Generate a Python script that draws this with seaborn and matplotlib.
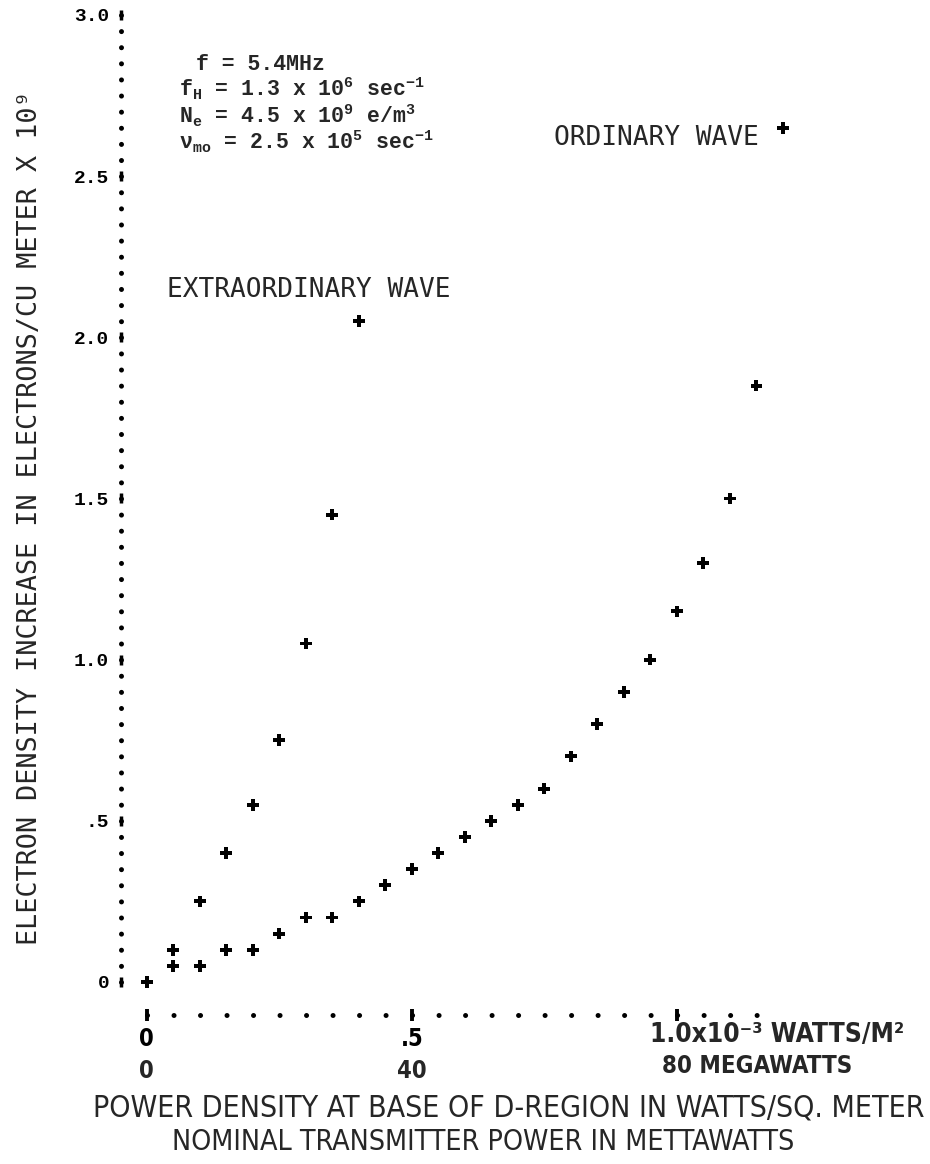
import numpy as np
import pandas as pd
import matplotlib
matplotlib.use("Agg")
import matplotlib.pyplot as plt
import matplotlib.transforms as mtransforms
from matplotlib import font_manager
import seaborn as sns

# ---------------- data ----------------
power_ext = [0.00, 0.05, 0.10, 0.15, 0.20, 0.25, 0.30, 0.35, 0.40]
dens_ext = [0.00, 0.10, 0.25, 0.40, 0.55, 0.75, 1.05, 1.45, 2.05]

power_ord = [0.00, 0.05, 0.10, 0.15, 0.20, 0.25, 0.30, 0.35, 0.40, 0.45,
             0.50, 0.55, 0.60, 0.65, 0.70, 0.75, 0.80, 0.85, 0.90, 0.95,
             1.00, 1.05, 1.10, 1.15, 1.20]
dens_ord = [0.00, 0.05, 0.05, 0.10, 0.10, 0.15, 0.20, 0.20, 0.25, 0.30,
            0.35, 0.40, 0.45, 0.50, 0.55, 0.60, 0.70, 0.80, 0.90, 1.00,
            1.15, 1.30, 1.50, 1.85, 2.65]

y_ticks = [0.0, 0.5, 1.0, 1.5, 2.0, 2.5, 3.0]
y_tick_labels = ["0", ".5", "1.0", "1.5", "2.0", "2.5", "3.0"]
x_ticks = [0.0, 0.5, 1.0]
x_tick_labels = ["0", ".5", ""]
mw_ticks = [0, 40, 80]
mw_tick_labels = ["0", "40", ""]
x_end_label = "1.0x10\u207b\u00b3 WATTS/M\u00b2"
mw_end_label = "80 MEGAWATTS"

param_lines = [
    "f = 5.4MHz",
    r"f$_H$ = 1.3 x 10$^6$ sec$^{-1}$",
    r"N$_e$ = 4.5 x 10$^9$ e/m$^3$",
    r"$\nu_{mo}$ = 2.5 x 10$^5$ sec$^{-1}$",
]
ylabel = "ELECTRON DENSITY INCREASE IN ELECTRONS/CU METER X 10\u2079"
xlabel1 = "POWER DENSITY AT BASE OF D-REGION IN WATTS/SQ. METER"
xlabel2 = "NOMINAL TRANSMITTER POWER IN METTAWATTS"

# ---------------- style ----------------
sns.set_style("white")
fonts = font_manager.fontManager.ttflist
names = {f.name for f in fonts}


def pick(*cands):
    for n in cands:
        if n in names:
            return n
    return "DejaVu Sans"


MONO = pick("DejaVu Sans Mono")
TYPE = pick("Liberation Mono", "DejaVu Sans Mono")
has_cond = any(f.name == "DejaVu Sans" and str(f.stretch) in ("condensed", "semi-condensed")
               for f in fonts)
if "Liberation Sans Narrow" in names:
    NARROW, STRETCH = "Liberation Sans Narrow", "normal"
elif has_cond:
    NARROW, STRETCH = "DejaVu Sans", "condensed"
else:
    NARROW, STRETCH = pick("Liberation Sans", "DejaVu Sans"), "normal"

plt.rcParams["font.family"] = [MONO, "DejaVu Sans"]
plt.rcParams["mathtext.fontset"] = "custom"
plt.rcParams["mathtext.rm"] = TYPE + ":bold"
plt.rcParams["mathtext.it"] = TYPE + ":bold"
plt.rcParams["mathtext.bf"] = TYPE + ":bold"
plt.rcParams["mathtext.default"] = "rm"

W, H, DPI = 930, 1164, 100
fig = plt.figure(figsize=(W / DPI, H / DPI), dpi=DPI)
fig.patch.set_facecolor("white")

# axes frame: left spine at x=121px, bottom spine at y=1015px
ax_l, ax_r, ax_t, ax_b = 121, 830, 10, 1015
ax = fig.add_axes([ax_l / W, 1 - ax_b / H, (ax_r - ax_l) / W, (ax_b - ax_t) / H])
ax.set_facecolor("white")
ax.set_xlim(-0.0485, 1.289)
ax.set_ylim(-0.1024, 3.0155)

df = pd.concat([
    pd.DataFrame({"power": power_ext, "density": dens_ext, "wave": "EXTRAORDINARY"}),
    pd.DataFrame({"power": power_ord, "density": dens_ord, "wave": "ORDINARY"}),
], ignore_index=True)

sns.scatterplot(data=df, x="power", y="density", hue="wave",
                palette={"EXTRAORDINARY": "black", "ORDINARY": "black"},
                marker="P", s=70, linewidth=0, legend=False, ax=ax, clip_on=False)

# ---------------- axes: dotted spines with ticks ----------------
sns.despine(ax=ax)
ax.spines["left"].set_bounds(0, 3.0)
ax.spines["bottom"].set_bounds(0, 1.2)

p0 = ax.transData.transform((0, 0))
p1 = ax.transData.transform((0.05, 0.05))
step_x_pt = abs(p1[0] - p0[0]) * 72 / DPI
step_y_pt = abs(p1[1] - p0[1]) * 72 / DPI
dot_lw = 3.6
for side, step in (("left", step_y_pt), ("bottom", step_x_pt)):
    sp = ax.spines[side]
    sp.set_linewidth(dot_lw)
    sp.set_capstyle("round")
    sp.set_linestyle((0, (0.01, step / dot_lw - 0.01)))
    sp.set_color("black")

ax.set_yticks(y_ticks)
ax.set_yticklabels(y_tick_labels, fontfamily=TYPE, fontweight="bold", fontsize=14)
ax.set_xticks(x_ticks)
ax.set_xticklabels(x_tick_labels, fontfamily=[NARROW, "DejaVu Sans"], fontstretch=STRETCH,
                   fontweight="bold", fontsize=17)
ax.tick_params(axis="y", direction="out", length=6.5, width=2.3, pad=2, colors="black")
ax.tick_params(axis="x", direction="inout", length=9, width=2.6, pad=4, colors="black")

# vertical bars: the "I" shaped y ticks and the "|" x ticks on the dotted axes
ax.plot(np.zeros(len(y_ticks)), y_ticks, ls="none", marker="|", ms=7.5, mew=2.5,
        color="black", clip_on=False,
        transform=mtransforms.blended_transform_factory(ax.transAxes, ax.transData))
ax.plot(x_ticks, np.zeros(len(x_ticks)), ls="none", marker="|", ms=8, mew=2.8,
        color="black", clip_on=False,
        transform=mtransforms.blended_transform_factory(ax.transData, ax.transAxes))

# second row of x tick labels: transmitter power in megawatts
sec = ax.secondary_xaxis("bottom", functions=(lambda p: p * 80, lambda m: m / 80))
sec.set_xticks(mw_ticks)
sec.set_xticklabels(mw_tick_labels, fontfamily=[NARROW, "DejaVu Sans"], fontstretch=STRETCH,
                    fontweight="bold", fontsize=17)
sec.spines["bottom"].set_visible(False)
sec.tick_params(axis="x", length=0, pad=32)

bl = mtransforms.blended_transform_factory(ax.transData, ax.transAxes)
t_end1 = ax.text(1.0, (ax_b - 1035) / (ax_b - ax_t), x_end_label, ha="left", va="center",
                 fontfamily=[NARROW, "DejaVu Sans"], fontstretch=STRETCH, fontweight="bold",
                 fontsize=17,
                 transform=mtransforms.offset_copy(bl, fig=fig, x=-27, y=0, units="dots"))
t_end2 = ax.text(1.0, (ax_b - 1066) / (ax_b - ax_t), mw_end_label, ha="left", va="center",
                 fontfamily=[NARROW, "DejaVu Sans"], fontstretch=STRETCH, fontweight="bold",
                 fontsize=17,
                 transform=mtransforms.offset_copy(bl, fig=fig, x=-15, y=0, units="dots"))

# ---------------- labels ----------------
ax.set_ylabel(ylabel, fontfamily=[MONO, "DejaVu Sans"], fontsize=19, ha="center", va="center")
ax.yaxis.set_label_coords((30 - ax_l) / (ax_r - ax_l), (ax_b - 518) / (ax_b - ax_t))
ax.set_xlabel(xlabel1, fontfamily=[NARROW, "DejaVu Sans"], fontstretch=STRETCH, fontsize=22,
              ha="center", va="center")
ax.xaxis.set_label_coords(((93 + 925) / 2 - ax_l) / (ax_r - ax_l), (ax_b - 1108) / (ax_b - ax_t))
t_x2 = ax.text(((172 + 795) / 2 - ax_l) / (ax_r - ax_l), (ax_b - 1142) / (ax_b - ax_t), xlabel2,
               ha="center", va="center", fontfamily=[NARROW, "DejaVu Sans"],
               fontstretch=STRETCH, fontsize=22, transform=ax.transAxes)

t_ext = ax.text(0.0377, 2.147, "EXTRAORDINARY WAVE", ha="left", va="center",
                fontfamily=MONO, fontsize=19)
t_ord = ax.text(0.769, 2.619, "ORDINARY WAVE", ha="left", va="center",
                fontfamily=MONO, fontsize=19)

param_pos = [(0.093, 2.830), (0.061, 2.749), (0.061, 2.664), (0.061, 2.583)]
for (px, py), line in zip(param_pos, param_lines):
    ax.text(px, py, line, ha="left", va="baseline", fontfamily=TYPE,
            fontweight="bold", fontsize=15.5)

# fit selected texts to the reference extents (pixels)
fig.canvas.draw()
renderer = fig.canvas.get_renderer()


def fit(t, target, vertical=False):
    bb = t.get_window_extent(renderer)
    cur = bb.height if vertical else bb.width
    if cur > 0:
        t.set_fontsize(t.get_fontsize() * target / cur)


fit(ax.yaxis.label, 855, vertical=True)
fit(ax.xaxis.label, 832)
fit(t_x2, 623)
fit(t_ext, 283)
fit(t_ord, 205)
fit(t_end1, 255)
fit(t_end2, 190)

fig.savefig("out.png", dpi=DPI, facecolor="white")
